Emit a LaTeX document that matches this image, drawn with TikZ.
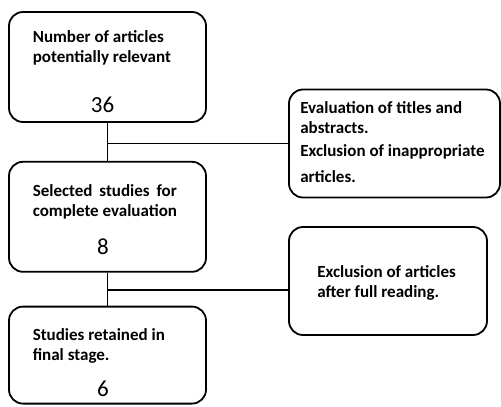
\documentclass[tikz,border=0pt]{standalone}
\usepackage{fontspec}
\setmainfont{Carlito}
\usepackage{tikz}
\usetikzlibrary{positioning}
\definecolor{cInk}{HTML}{000000}
\definecolor{cPaper}{HTML}{FFFFFF}
\tikzset{
  stage/.style ={draw=cInk,fill=cPaper,line width=1.8pt,rounded corners=14pt,
                 inner sep=0pt,minimum width=197pt,minimum height=110pt},
  note/.style  ={stage,minimum width=211pt,minimum height=108pt},
  txt/.style   ={anchor=base west,align=left,inner sep=0pt,text=cInk,
                 font=\bfseries\fontsize{17}{20}\selectfont},
  num/.style   ={anchor=base,inner sep=0pt,text=cInk,font=\fontsize{23}{26}\selectfont},
  link/.style  ={line width=1.8pt,cInk},
}

\begin{document}
\begin{tikzpicture}[x=1pt,y=-1pt]
\useasboundingbox (0,0) rectangle (501,407);
\node[stage] (Art) at (107.5,67) {};
\node[stage,below=38pt of Art] (Sel) {};
\node[stage,below=33pt of Sel,minimum height=97pt] (Ret) {};
\node[note] (Scr) at (394.5,143.5) {};
\node[note,minimum width=198pt] (Full) at (388,281) {};
\node[txt] (ArtT) at ([shift={(24.5,51)}]Art.north west) {Number of articles\\potentially relevant};
\node[num] (ArtN) at ([shift={(-5,-10)}]Art.south) {36};
\node[txt] (SelT) at ([shift={(24.5,55.5)}]Sel.north west) {\makebox[144pt][s]{Selected studies for}\\complete evaluation};
\node[num] (SelN) at ([shift={(-4.5,-18)}]Sel.south) {8};
\node[txt] (RetT) at ([shift={(24.5,55)}]Ret.north west) {Studies retained in\\final stage.};
\node[num] (RetN) at ([shift={(-4.5,-8)}]Ret.south) {6};
\node[txt] (ScrT) at ([shift={(12,93.5)}]Scr.north west) {Evaluation of titles and\\abstracts.\\[3pt]Exclusion of inappropriate\\[6pt]articles.};
\node[txt] (FullT) at ([shift={(29,71)}]Full.north west) {Exclusion of articles\\after full reading.};
\draw[link] (Art) -- (Sel);
\draw[link] (Sel) -- (Ret);
\coordinate (j1) at (Art.south |- Scr.west);
\coordinate (j2) at ([yshift=-17pt]Sel.south);
\draw[link] (j1) -- (Scr.west);
\draw[link] (j2) -- (j2 -| Full.west);
\end{tikzpicture}
\end{document}
